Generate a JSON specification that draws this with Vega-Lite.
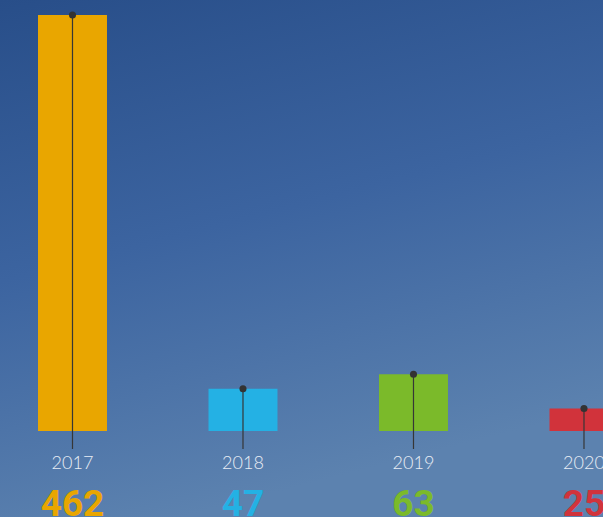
{
  "$schema": "https://vega.github.io/schema/vega-lite/v6.json",
  "width": 603,
  "height": 517,
  "padding": 0,
  "autosize": {"type": "none"},
  "config": {"view": {"stroke": null}},
  "datasets": {
    "sales": [
      {"year": 2017, "value": 462},
      {"year": 2018, "value": 47},
      {"year": 2019, "value": 63},
      {"year": 2020, "value": 25}
    ]
  },
  "layer": [
    {
      "data": {"values": [{"bg": 1}]},
      "mark": {
        "type": "rect",
        "color": {
          "gradient": "linear",
          "x1": 0, "y1": 0, "x2": 0.3, "y2": 1,
          "stops": [
            {"offset": 0, "color": "#284e89"},
            {"offset": 0.5, "color": "#3c64a0"},
            {"offset": 1, "color": "#5c82af"}
          ]
        }
      },
      "encoding": {}
    },
    {
      "data": {"name": "sales"},
      "encoding": {
        "x": {"field": "year", "type": "quantitative", "scale": {"domain": [2016.5748, 2020.1115], "nice": false, "zero": false, "padding": 0}, "axis": null}
      },
      "layer": [
        {
          "mark": {"type": "bar", "width": 69},
          "encoding": {
            "y": {"field": "value", "type": "quantitative", "scale": {"domain": [-95.5, 478.7], "nice": false, "zero": false}, "axis": null},
            "y2": {"datum": 0},
            "color": {"field": "year", "type": "nominal", "scale": {"domain": [2017, 2018, 2019, 2020], "range": ["#e9a600", "#24b1e4", "#7bba2a", "#d1333b"]}, "legend": null}
          }
        },
        {
          "mark": {"type": "rule", "color": "#363636", "strokeWidth": 1.2},
          "encoding": {
            "y": {"field": "value", "type": "quantitative"},
            "y2": {"datum": -20}
          }
        },
        {
          "mark": {"type": "circle", "color": "#333333", "opacity": 1, "size": 50},
          "encoding": {
            "y": {"field": "value", "type": "quantitative"}
          }
        },
        {
          "mark": {"type": "text", "font": "Lato", "fontWeight": 300, "fontSize": 18, "color": "#e8edf5", "baseline": "alphabetic"},
          "encoding": {
            "y": {"datum": -42.2},
            "text": {"field": "year", "type": "nominal"}
          }
        },
        {
          "mark": {"type": "text", "font": "Roboto", "fontWeight": "bold", "fontSize": 37, "baseline": "alphabetic"},
          "encoding": {
            "y": {"datum": -94.4},
            "text": {"field": "value", "type": "nominal"},
            "color": {"field": "year", "type": "nominal"}
          }
        }
      ]
    }
  ]
}
